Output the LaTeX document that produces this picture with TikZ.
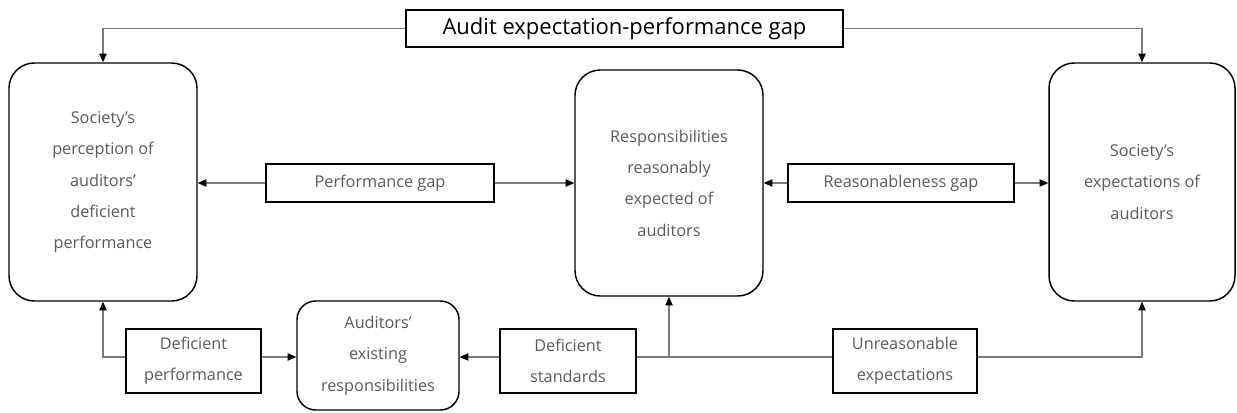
\documentclass[tikz,border=0pt]{standalone}
\usepackage{fontspec}
\setmainfont{Open Sans}
\usetikzlibrary{arrows.meta,calc}
\definecolor{txtgray}{HTML}{5A5A5A}
\definecolor{linegray}{HTML}{7A7A7A}
\begin{document}
\begin{tikzpicture}[x=0.75pt,y=-0.75pt,
  bigbox/.style={draw=black,line width=1.1pt,rounded corners=19pt,align=center,
    text=txtgray,font=\fontsize{12.2}{23.5}\selectfont,inner sep=0pt},
  gapbox/.style={draw=black,line width=1.1pt,align=center,text=txtgray,
    font=\fontsize{12.2}{23.5}\selectfont,inner sep=0pt},
  conn/.style={draw=linegray,line width=0.8pt,
    -{Triangle[length=6.5pt,width=5.5pt,color=black]}},
  plain/.style={draw=linegray,line width=0.8pt}]
\useasboundingbox (0,0) rectangle (1237,413);
% main boxes
\node[bigbox,minimum width=141pt,minimum height=178.5pt] (L) at (103,182)
  {Society's\\perception of\\auditors'\\deficient\\performance};
\node[bigbox,minimum width=141pt,minimum height=169.5pt] (M) at (669,183)
  {Responsibilities\\reasonably\\expected of\\auditors};
\node[bigbox,minimum width=139.5pt,minimum height=178.5pt] (R) at (1142,182)
  {Society's\\expectations of\\auditors};
\node[bigbox,rounded corners=14pt,minimum width=121.5pt,minimum height=81.75pt] (A) at (378,355.5)
  {Auditors'\\existing\\responsibilities};
% title
\node[gapbox,text=black,font=\fontsize{16.5}{18}\selectfont,minimum width=327.75pt,minimum height=27.75pt] (T) at (624.5,28.5)
  {Audit expectation-performance gap};
% gap boxes
\node[gapbox,minimum width=171pt,minimum height=28.5pt] (PG) at (380,183) {Performance gap};
\node[gapbox,minimum width=169.5pt,minimum height=28.5pt] (RG) at (901,183) {Reasonableness gap};
\node[gapbox,minimum width=101.25pt,minimum height=48pt] (DP) at (193.5,361) {Deficient\\performance};
\node[gapbox,minimum width=102pt,minimum height=48pt] (DS) at (568,361) {Deficient\\standards};
\node[gapbox,minimum width=108pt,minimum height=48pt] (UE) at (905,361) {Unreasonable\\expectations};
% connectors
\draw[conn] (T.west) -| (L.north);
\draw[conn] (T.east) -| (R.north);
\draw[conn] (PG.west) -- (PG.west -| L.east);
\draw[conn] (PG.east) -- (PG.east -| M.west);
\draw[conn] (RG.west) -- (RG.west -| M.east);
\draw[conn] (RG.east) -- (RG.east -| R.west);
\coordinate (dpw) at ([yshift=3pt]DP.west);
\coordinate (dpe) at ([yshift=3pt]DP.east);
\coordinate (dsw) at ([yshift=3pt]DS.west);
\coordinate (dse) at ([yshift=3pt]DS.east);
\coordinate (uew) at ([yshift=3pt]UE.west);
\coordinate (uee) at ([yshift=3pt]UE.east);
\draw[conn] (dpw) -| (L.south);
\draw[conn] (dpe) -- (dpe -| A.west);
\draw[conn] (dsw) -- (dsw -| A.east);
\draw[plain] (dse) -- (uew);
\coordinate (jn) at (M.south |- dse);
\draw[conn] (jn) -- (M.south);
\draw[conn] (uee) -| (R.south);
\end{tikzpicture}
\end{document}
